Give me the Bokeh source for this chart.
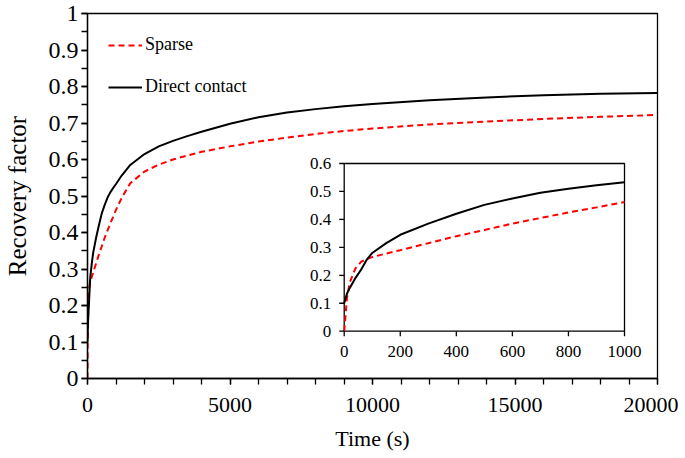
import math
from bokeh.plotting import figure
from bokeh.models import SingleIntervalTicker, Legend, LegendItem, Range1d
from bokeh.core.properties import value
from bokeh.embed import file_html
from bokeh.resources import INLINE

# ---- data ----
time_s = [0, 10, 20, 40, 60, 80, 100, 150, 200, 300, 400, 500, 600, 700, 800, 900, 1000,
          1200, 1500, 2000, 2500, 3000, 3500, 4000, 5000, 6000, 7000, 8000, 9000, 10000,
          12000, 14000, 16000, 18000, 20000]
direct_contact = [0.10, 0.135, 0.155, 0.19, 0.22, 0.255, 0.28, 0.315, 0.345, 0.385, 0.42, 0.452, 0.475, 0.495, 0.51, 0.522, 0.533,
                  0.556, 0.585, 0.615, 0.636, 0.651, 0.664, 0.676, 0.698, 0.716, 0.729, 0.738, 0.746, 0.752,
                  0.762, 0.77, 0.776, 0.780, 0.782]
sparse = [0.0, 0.12, 0.175, 0.225, 0.248, 0.258, 0.265, 0.278, 0.29, 0.315, 0.34, 0.362, 0.385, 0.405, 0.425, 0.443, 0.462,
          0.495, 0.535, 0.567, 0.586, 0.600, 0.611, 0.621, 0.636, 0.649, 0.660, 0.670, 0.678, 0.685,
          0.696, 0.704, 0.711, 0.717, 0.722]
series_names = ["Sparse", "Direct contact"]
x_label = "Time (s)"
y_label = "Recovery factor"
inset_x_ticks = [0, 200, 400, 600, 800, 1000]
inset_y_ticks = [0, 0.1, 0.2, 0.3, 0.4, 0.5, 0.6]
inset_x_labels = [f"{v:g}" for v in inset_x_ticks]
inset_y_labels = [f"{v:g}" for v in inset_y_ticks]

FONT = "Liberation Serif"
RED = "#ff0000"

# ---- main figure ----
p = figure(frame_width=570, frame_height=365, output_backend="svg", toolbar_location=None,
           x_range=Range1d(0, 20000), y_range=Range1d(0, 1),
           min_border_left=86, min_border_right=21, min_border_top=13, min_border_bottom=71)
p.background_fill_color = "white"
p.border_fill_color = "white"
p.xgrid.visible = False
p.ygrid.visible = False
p.outline_line_color = "black"
p.outline_line_width = 1.3
for ax in (p.xaxis[0], p.yaxis[0]):
    ax.axis_line_color = "black"
    ax.axis_line_width = 1.3
    ax.major_tick_line_color = "black"
    ax.minor_tick_line_color = "black"
    ax.major_tick_line_width = 1.3
    ax.minor_tick_line_width = 1.3
    ax.major_tick_in = 0
    ax.major_tick_out = 6
    ax.minor_tick_in = 0
    ax.minor_tick_out = 6
    ax.major_label_text_font = FONT
    ax.major_label_text_color = "black"
    ax.axis_label_text_font = FONT
    ax.axis_label_text_font_style = "normal"
    ax.axis_label_text_color = "black"
p.xaxis[0].ticker = SingleIntervalTicker(interval=5000, num_minor_ticks=5)
p.yaxis[0].ticker = SingleIntervalTicker(interval=0.1, num_minor_ticks=2)
p.xaxis[0].major_label_text_font_size = "22px"
p.yaxis[0].major_label_text_font_size = "24px"
p.xaxis[0].major_label_standoff = 13
p.yaxis[0].major_label_standoff = 3
p.xaxis[0].axis_label = x_label
p.yaxis[0].axis_label = y_label
p.xaxis[0].axis_label_text_font_size = "22px"
p.yaxis[0].axis_label_text_font_size = "25px"
p.xaxis[0].axis_label_standoff = 11
p.yaxis[0].axis_label_standoff = 15

r_sparse = p.line(time_s, sparse, line_color=RED, line_width=2, line_dash="6 4")
r_direct = p.line(time_s, direct_contact, line_color="black", line_width=2)

legend = Legend(items=[LegendItem(label=series_names[0], renderers=[r_sparse]),
                       LegendItem(label=series_names[1], renderers=[r_direct])],
                location="top_left")
legend.background_fill_alpha = 0
legend.border_line_alpha = 0
legend.margin = 21
legend.padding = 0
legend.spacing = 21
legend.glyph_width = 34
legend.label_standoff = 3
legend.label_text_font = FONT
legend.label_text_font_size = "18px"
legend.label_text_color = "black"
p.add_layout(legend)

# ---- inset, drawn in the same figure on its own ranges ----
# main frame spans x 86..656 and y 14..379 px; the inset frame spans x 343..623, y 164..332
p.extra_x_ranges = {"ix": Range1d(-915.8, 1117.7)}
p.extra_y_ranges = {"iy": Range1d(-0.1692, 1.1367)}
IR = dict(x_range_name="ix", y_range_name="iy")

p.quad(left=[inset_x_ticks[0]], right=[inset_x_ticks[-1]],
       bottom=[inset_y_ticks[0]], top=[inset_y_ticks[-1]],
       fill_color="white", line_color="black", line_width=1.3, **IR)
n_in = time_s.index(1000) + 1
p.line(time_s[:n_in], sparse[:n_in], line_color=RED, line_width=2, line_dash="6 4", **IR)
p.line(time_s[:n_in], direct_contact[:n_in], line_color="black", line_width=2, **IR)

# inset ticks
p.ray(x=inset_x_ticks, y=[inset_y_ticks[0]] * len(inset_x_ticks), length=5, length_units="screen",
      angle=-math.pi / 2, line_color="black", line_width=1.3, **IR)
p.ray(x=[inset_x_ticks[0]] * len(inset_y_ticks), y=inset_y_ticks, length=5, length_units="screen",
      angle=math.pi, line_color="black", line_width=1.3, **IR)
# inset tick labels
p.text(x=inset_x_ticks, y=[inset_y_ticks[0]] * len(inset_x_ticks), text=inset_x_labels,
       y_offset=15, text_align="center", text_baseline="top",
       text_font=value(FONT), text_font_size="17px", text_color="black", **IR)
p.text(x=[inset_x_ticks[0]] * len(inset_y_ticks), y=inset_y_ticks, text=inset_y_labels,
       x_offset=-13, text_align="right", text_baseline="middle",
       text_font=value(FONT), text_font_size="17px", text_color="black", **IR)

open("out.html", "w").write(file_html(p, INLINE))
